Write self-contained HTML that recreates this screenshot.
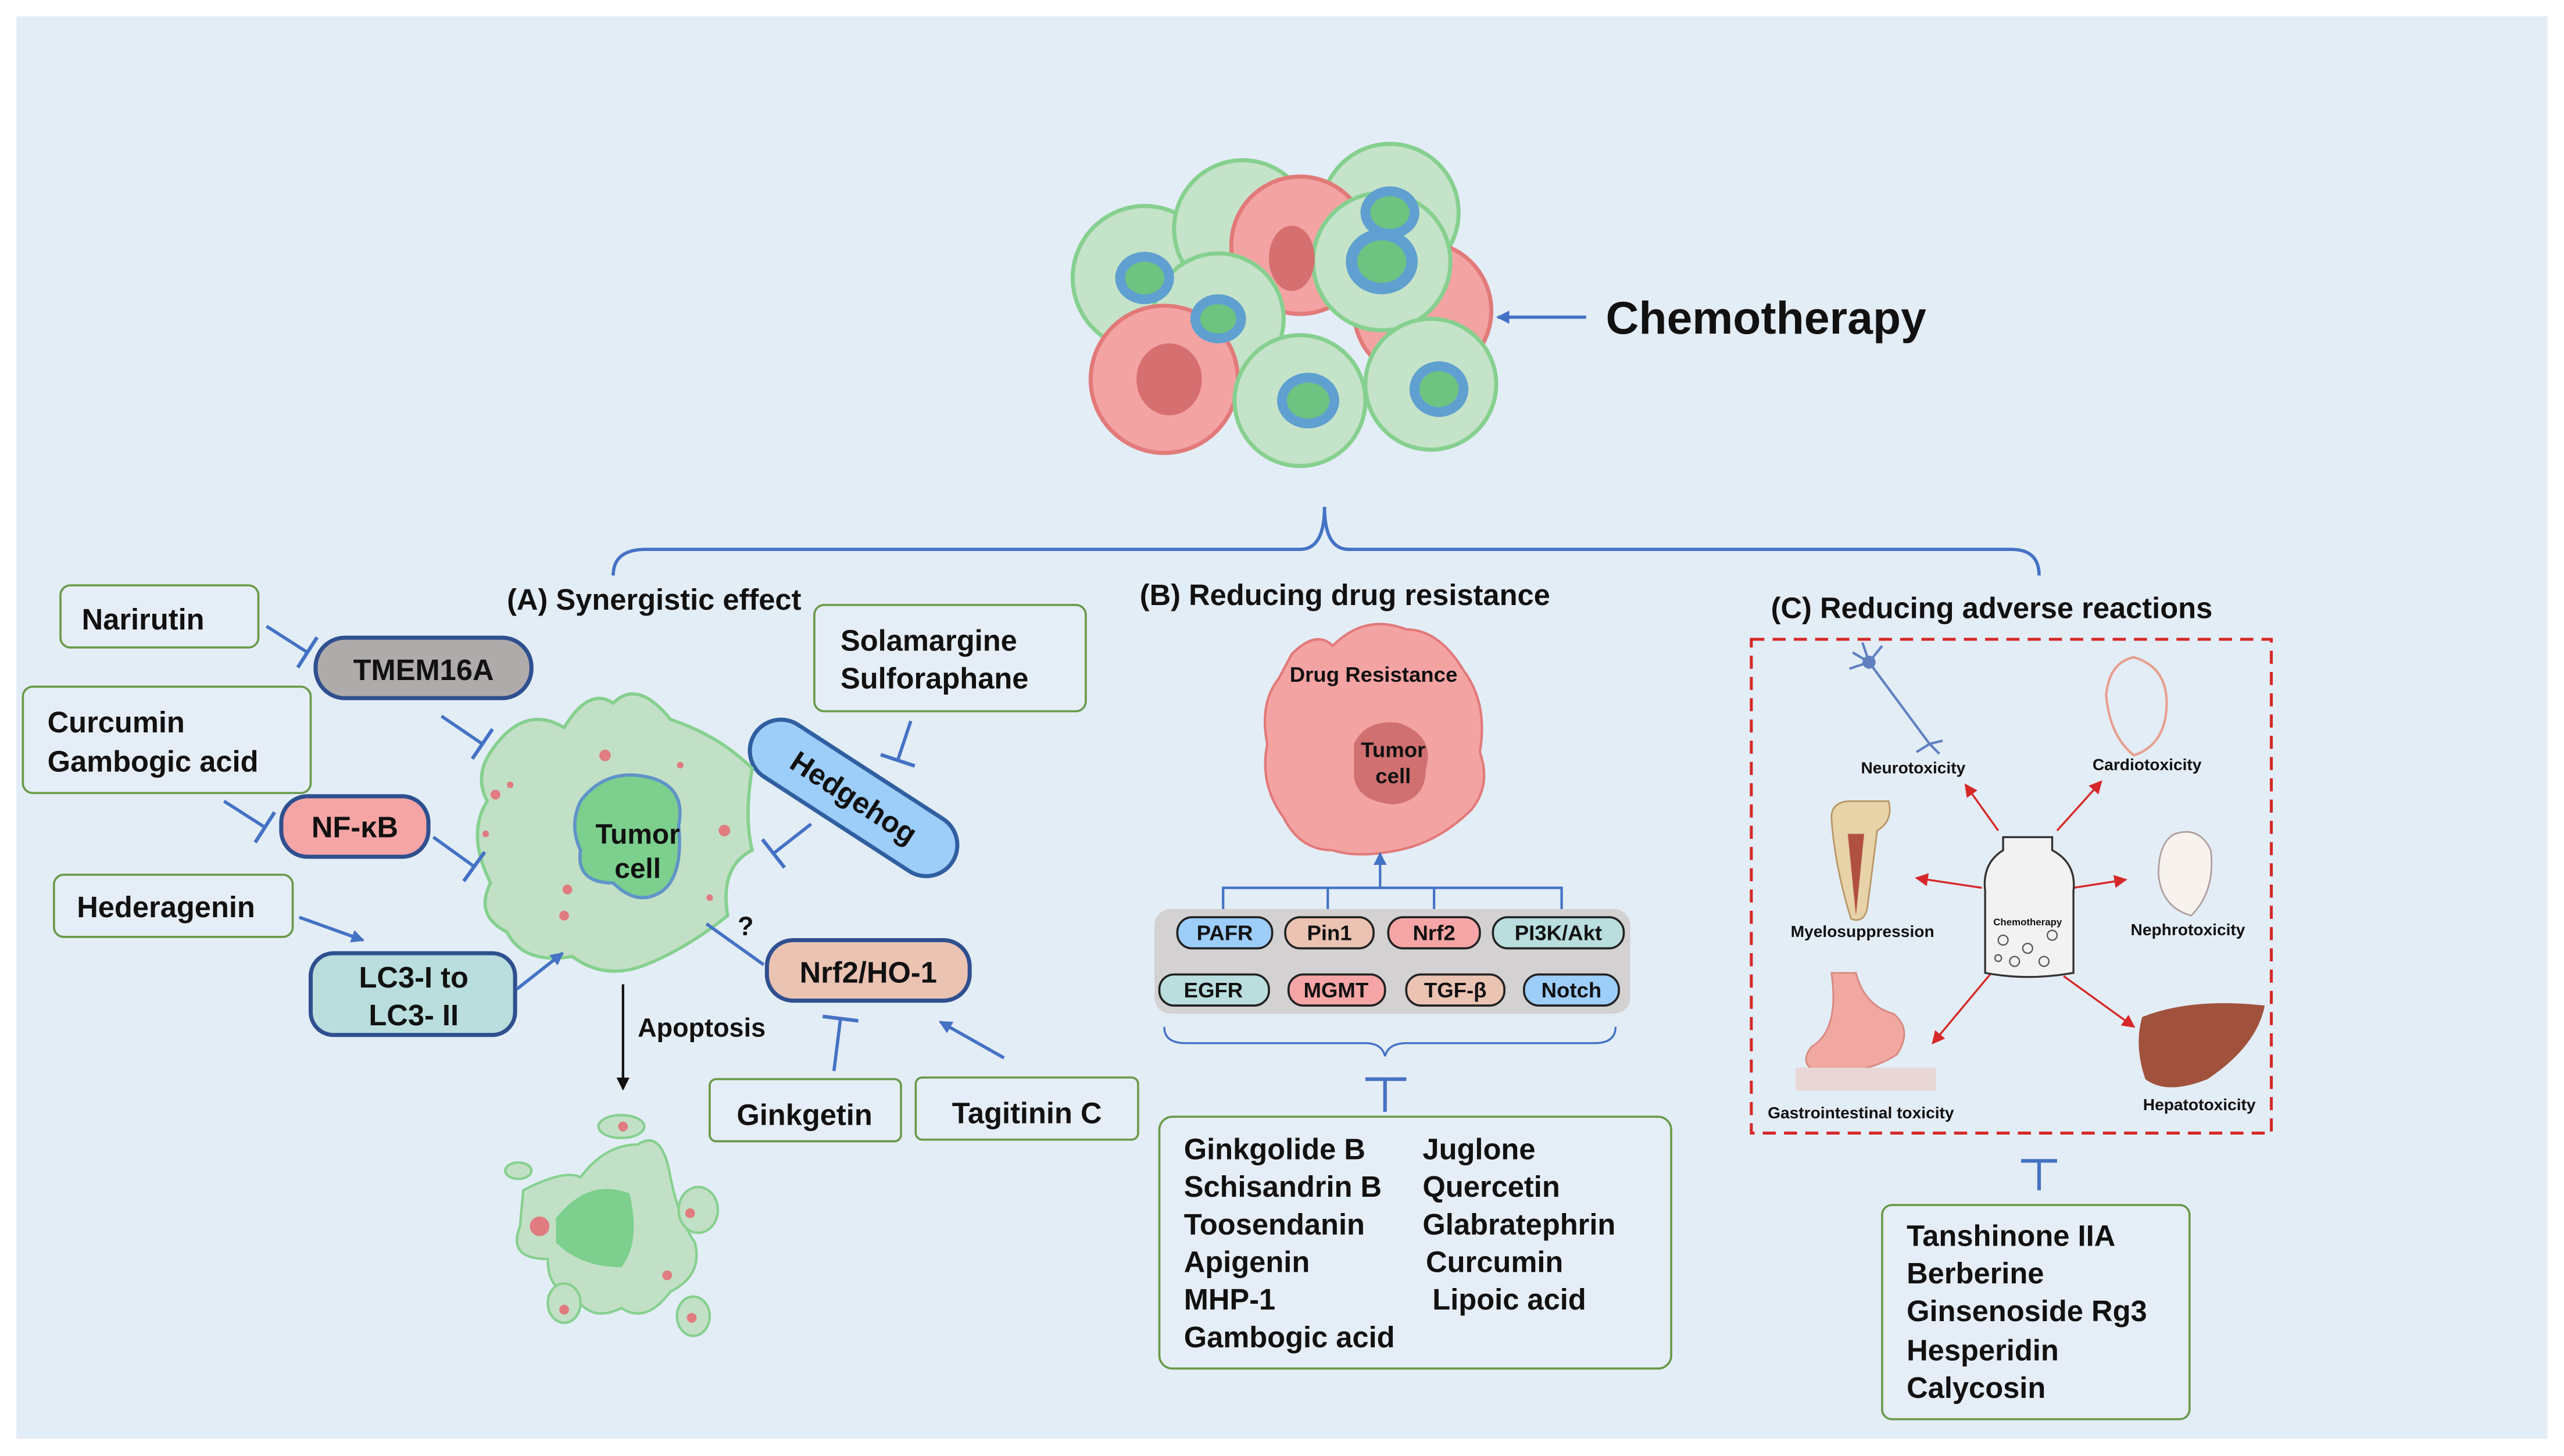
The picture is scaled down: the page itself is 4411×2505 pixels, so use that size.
<!DOCTYPE html>
<html><head><meta charset="utf-8"><style>
html,body{margin:0;padding:0;background:#fff}
svg{display:block}
text{font-family:"Liberation Sans",sans-serif;font-weight:bold;fill:#111}
</style></head><body>
<svg width="4411" height="2505" viewBox="0 0 1568 890.5" preserveAspectRatio="none" xmlns="http://www.w3.org/2000/svg">
<defs>
<marker id="ab" markerWidth="8" markerHeight="8" refX="7" refY="4" orient="auto" markerUnits="userSpaceOnUse"><path d="M0,0 L8,4 L0,8 Z" fill="#4472c4"/></marker>
<marker id="ak" markerWidth="8" markerHeight="8" refX="7" refY="4" orient="auto" markerUnits="userSpaceOnUse"><path d="M0,0 L8,4 L0,8 Z" fill="#111"/></marker>
<marker id="ar" markerWidth="8" markerHeight="8" refX="7" refY="4" orient="auto" markerUnits="userSpaceOnUse"><path d="M0,0 L8,4 L0,8 Z" fill="#d62828"/></marker>
<marker id="tb" markerWidth="4" markerHeight="22" refX="2" refY="11" orient="auto" markerUnits="userSpaceOnUse"><path d="M2,0 L2,22" stroke="#4472c4" stroke-width="2.2"/></marker>
</defs>
<rect x="0" y="0" width="1568" height="890.5" fill="#fff"/>
<rect x="10" y="10" width="1548" height="870" fill="#e3edf6"/>

<!-- chemo cluster -->
<g stroke-width="2.5">
<circle cx="700" cy="170" r="44" fill="#c5e3c9" stroke="#86d08f"/>
<circle cx="850" cy="130" r="42" fill="#c5e3c9" stroke="#86d08f"/>
<circle cx="760" cy="140" r="42" fill="#c5e3c9" stroke="#86d08f"/>
<circle cx="795" cy="150" r="42" fill="#f4a3a3" stroke="#e27a7a"/>
<circle cx="870" cy="190" r="42" fill="#f4a3a3" stroke="#e27a7a"/>
<circle cx="745" cy="195" r="40" fill="#c5e3c9" stroke="#86d08f"/>
<circle cx="845" cy="160" r="42" fill="#c5e3c9" stroke="#86d08f"/>
<circle cx="712" cy="232" r="45" fill="#f4a3a3" stroke="#e27a7a"/>
<circle cx="795" cy="245" r="40" fill="#c5e3c9" stroke="#86d08f"/>
<circle cx="875" cy="235" r="40" fill="#c5e3c9" stroke="#86d08f"/>
</g>
<g>
<ellipse cx="700" cy="170" rx="18" ry="16" fill="#5fa0d0"/><ellipse cx="700" cy="170" rx="12" ry="10" fill="#6cc480"/>
<ellipse cx="850" cy="130" rx="18" ry="16" fill="#5fa0d0"/><ellipse cx="850" cy="130" rx="12" ry="10" fill="#6cc480"/>
<ellipse cx="790" cy="158" rx="14" ry="20" fill="#d66f70"/>
<ellipse cx="845" cy="160" rx="22" ry="20" fill="#5fa0d0"/><ellipse cx="845" cy="160" rx="15" ry="13" fill="#6cc480"/>
<ellipse cx="745" cy="195" rx="17" ry="15" fill="#5fa0d0"/><ellipse cx="745" cy="195" rx="11" ry="9" fill="#6cc480"/>
<ellipse cx="715" cy="232" rx="20" ry="22" fill="#d66f70"/>
<ellipse cx="800" cy="245" rx="19" ry="17" fill="#5fa0d0"/><ellipse cx="800" cy="245" rx="13" ry="11" fill="#6cc480"/>
<ellipse cx="880" cy="238" rx="18" ry="17" fill="#5fa0d0"/><ellipse cx="880" cy="238" rx="12" ry="11" fill="#6cc480"/>
</g>
<line x1="970" y1="194" x2="916" y2="194" stroke="#4472c4" stroke-width="2" marker-end="url(#ab)"/>
<text x="982" y="204" font-size="28">Chemotherapy</text>

<!-- brace -->
<path d="M375,352 Q375,336 395,336 L795,336 Q810,336 810,310 Q810,336 825,336 L1230,336 Q1247,336 1247,352" fill="none" stroke="#4472c4" stroke-width="2"/>
<text x="310" y="373" font-size="18">(A) Synergistic effect</text>
<text x="697" y="370" font-size="18">(B) Reducing drug resistance</text>
<text x="1083" y="378" font-size="18">(C) Reducing adverse reactions</text>

<!-- panel A -->
<g fill="#e5eef6" stroke="#6a9a4a" stroke-width="1.3">
<rect x="37" y="358" width="121" height="38" rx="6"/>
<rect x="14" y="420" width="176" height="65" rx="6"/>
<rect x="33" y="535" width="146" height="38" rx="6"/>
<rect x="498" y="370" width="166" height="65" rx="6"/>
<rect x="434" y="660" width="117" height="38" rx="4"/>
<rect x="560" y="659" width="136" height="38" rx="4"/>
</g>
<text x="50" y="385" font-size="18">Narirutin</text>
<text x="29" y="448" font-size="18">Curcumin</text>
<text x="29" y="472" font-size="18">Gambogic acid</text>
<text x="47" y="561" font-size="18">Hederagenin</text>
<text x="514" y="398" font-size="18">Solamargine</text>
<text x="514" y="421" font-size="18">Sulforaphane</text>
<text x="492" y="688" font-size="18" text-anchor="middle">Ginkgetin</text>
<text x="628" y="687" font-size="18" text-anchor="middle">Tagitinin C</text>

<g stroke="#2f4f8f" stroke-width="2.5">
<rect x="193" y="390" width="132" height="37" rx="18" fill="#b0abab"/>
<rect x="172" y="487" width="90" height="37" rx="16" fill="#f5a5a5"/>
<rect x="190" y="583" width="125" height="50" rx="14" fill="#b9dedd"/>
<rect x="469" y="575" width="124" height="37" rx="16" fill="#ebc3b3"/>
</g>
<text x="259" y="416" font-size="18" text-anchor="middle">TMEM16A</text>
<text x="217" y="512" font-size="18" text-anchor="middle">NF-κB</text>
<text x="253" y="604" font-size="18" text-anchor="middle">LC3-I to</text>
<text x="253" y="627" font-size="18" text-anchor="middle">LC3- II</text>
<text x="531" y="601" font-size="18" text-anchor="middle">Nrf2/HO-1</text>
<text x="456" y="572" font-size="16" text-anchor="middle">?</text>

<g transform="translate(522,488) rotate(33)">
<rect x="-72" y="-19" width="144" height="38" rx="19" fill="#9dcdf9" stroke="#2f5fa0" stroke-width="2.5"/>
<text x="0" y="6" font-size="18" text-anchor="middle">Hedgehog</text>
</g>

<!-- tumor cell A -->
<path d="M300,460 Q320,430 345,445 Q360,420 375,430 Q390,415 410,440 Q440,450 460,470 Q455,500 460,520 Q440,530 445,560 Q420,580 395,590 Q370,600 350,585 Q320,590 310,570 Q290,560 300,540 Q285,510 298,490 Q290,475 300,460 Z" fill="#c2e0c6" stroke="#86d08f" stroke-width="2"/>
<path d="M355,490 Q370,470 395,475 Q420,480 415,505 Q418,535 405,545 Q390,555 375,540 Q352,540 355,520 Q348,505 355,490 Z" fill="#7ccf8d" stroke="#5f94c8" stroke-width="2"/>
<text x="390" y="516" font-size="17" text-anchor="middle">Tumor</text>
<text x="390" y="537" font-size="17" text-anchor="middle">cell</text>
<g fill="#e07c80"><circle cx="303" cy="486" r="3"/><circle cx="370" cy="462" r="3.5"/><circle cx="347" cy="544" r="3"/><circle cx="443" cy="508" r="3.5"/><circle cx="345" cy="560" r="3"/><circle cx="416" cy="468" r="2"/><circle cx="297" cy="510" r="2"/><circle cx="434" cy="549" r="2"/><circle cx="312" cy="480" r="2"/></g>

<g stroke="#4472c4" stroke-width="2" fill="none">
<line x1="163" y1="383" x2="188" y2="399" marker-end="url(#tb)"/>
<line x1="270" y1="438" x2="295" y2="455" marker-end="url(#tb)"/>
<line x1="137" y1="490" x2="162" y2="506" marker-end="url(#tb)"/>
<line x1="265" y1="512" x2="290" y2="530" marker-end="url(#tb)"/>
<line x1="496" y1="504" x2="473" y2="522" marker-end="url(#tb)"/>
<line x1="557" y1="441" x2="549" y2="465" marker-end="url(#tb)"/>
<line x1="510" y1="655" x2="514" y2="623" marker-end="url(#tb)"/>
<line x1="467" y1="590" x2="432" y2="565"/>
<line x1="183" y1="561" x2="222" y2="575" marker-end="url(#ab)"/>
<line x1="316" y1="605" x2="344" y2="583" marker-end="url(#ab)"/>
<line x1="614" y1="647" x2="575" y2="625" marker-end="url(#ab)"/>
</g>
<line x1="381" y1="602" x2="381" y2="666" stroke="#111" stroke-width="1.5" marker-end="url(#ak)"/>
<text x="390" y="634" font-size="16">Apoptosis</text>

<!-- dead cell -->
<g fill="#c2e0c6" stroke="#86d08f" stroke-width="1.5">
<path d="M320,728 Q345,715 355,720 Q370,700 390,700 Q405,690 410,720 Q415,745 425,760 Q430,780 410,790 Q395,810 380,800 Q360,810 350,790 Q335,790 335,770 Q310,770 318,750 Z"/>
<ellipse cx="380" cy="689" rx="14" ry="7"/>
<ellipse cx="345" cy="797" rx="10" ry="12"/>
<ellipse cx="424" cy="805" rx="10" ry="12"/>
<ellipse cx="427" cy="740" rx="12" ry="14"/>
<ellipse cx="317" cy="716" rx="8" ry="5"/>
</g>
<path d="M340,745 Q360,720 385,730 Q392,760 380,775 Q355,775 340,760 Z" fill="#7ccf8d"/>
<g fill="#e07c80"><circle cx="330" cy="750" r="6"/><circle cx="381" cy="689" r="3"/><circle cx="422" cy="742" r="3"/><circle cx="345" cy="801" r="3"/><circle cx="423" cy="806" r="3"/><circle cx="408" cy="780" r="3"/></g>

<!-- panel B -->
<path d="M790,400 Q805,385 815,395 Q835,375 860,385 Q880,385 895,410 Q910,430 905,460 Q912,480 900,495 Q880,515 855,520 Q830,525 815,520 Q795,520 785,500 Q770,480 775,455 Q770,430 782,415 Z" fill="#f4a3a3" stroke="#e27a7a" stroke-width="1.5"/>
<path d="M828,455 Q835,440 855,442 Q878,450 872,470 Q872,490 852,492 Q830,490 828,475 Z" fill="#d07070"/>
<text x="840" y="417" font-size="13" text-anchor="middle">Drug Resistance</text>
<text x="852" y="463" font-size="13" text-anchor="middle">Tumor</text>
<text x="852" y="479" font-size="13" text-anchor="middle">cell</text>
<g stroke="#4472c4" stroke-width="1.5" fill="none">
<line x1="844" y1="543" x2="844" y2="522" marker-end="url(#ab)"/>
<polyline points="748,562 748,543 955,543 955,562"/>
<line x1="812" y1="543" x2="812" y2="562"/>
<line x1="877" y1="543" x2="877" y2="562"/>
</g>
<rect x="706" y="556" width="291" height="64" rx="10" fill="#d3d1d1"/>
<g stroke="#222" stroke-width="1.3">
<rect x="720" y="561" width="58" height="19" rx="9" fill="#9dcdf9"/>
<rect x="786" y="561" width="54" height="19" rx="9" fill="#ebc3b3"/>
<rect x="849" y="561" width="56" height="19" rx="9" fill="#f5a5a5"/>
<rect x="913" y="561" width="80" height="19" rx="9" fill="#b9dedd"/>
<rect x="709" y="596" width="67" height="19" rx="9" fill="#b9dedd"/>
<rect x="788" y="596" width="59" height="19" rx="9" fill="#f5a5a5"/>
<rect x="860" y="596" width="60" height="19" rx="9" fill="#ebc3b3"/>
<rect x="932" y="596" width="58" height="19" rx="9" fill="#9dcdf9"/>
</g>
<g font-size="13" text-anchor="middle">
<text x="749" y="575">PAFR</text><text x="813" y="575">Pin1</text><text x="877" y="575">Nrf2</text><text x="953" y="575">PI3K/Akt</text>
<text x="742" y="610">EGFR</text><text x="817" y="610">MGMT</text><text x="890" y="610">TGF-β</text><text x="961" y="610">Notch</text>
</g>
<path d="M712,628 Q712,638 725,638 L835,638 Q845,638 847,646 Q849,638 860,638 L975,638 Q988,638 988,628" fill="none" stroke="#4472c4" stroke-width="1.2"/>
<g stroke="#4472c4" stroke-width="2.2"><line x1="847" y1="660" x2="847" y2="680"/><line x1="835" y1="660" x2="860" y2="660"/></g>
<rect x="709" y="683" width="313" height="154" rx="8" fill="#e5eef6" stroke="#6a9a4a" stroke-width="1.3"/>
<g font-size="18">
<text x="724" y="709">Ginkgolide B</text><text x="724" y="732">Schisandrin B</text><text x="724" y="755">Toosendanin</text><text x="724" y="778">Apigenin</text><text x="724" y="801">MHP-1</text><text x="724" y="824">Gambogic acid</text>
<text x="870" y="709">Juglone</text><text x="870" y="732">Quercetin</text><text x="870" y="755">Glabratephrin</text><text x="872" y="778">Curcumin</text><text x="876" y="801">Lipoic acid</text>
</g>

<!-- panel C -->
<rect x="1071" y="391" width="318" height="302" fill="none" stroke="#d62828" stroke-width="1.8" stroke-dasharray="8,5"/>
<g stroke="#d62828" stroke-width="1.2">
<line x1="1222" y1="508" x2="1202" y2="480" marker-end="url(#ar)"/>
<line x1="1258" y1="508" x2="1285" y2="478" marker-end="url(#ar)"/>
<line x1="1212" y1="543" x2="1172" y2="537" marker-end="url(#ar)"/>
<line x1="1268" y1="543" x2="1300" y2="538" marker-end="url(#ar)"/>
<line x1="1222" y1="590" x2="1182" y2="638" marker-end="url(#ar)"/>
<line x1="1262" y1="597" x2="1305" y2="628" marker-end="url(#ar)"/>
</g>
<!-- bottle -->
<path d="M1225,512 L1255,512 L1255,520 Q1270,528 1268,545 L1268,595 Q1240,600 1214,595 L1214,545 Q1212,528 1225,520 Z" fill="#f2f2f2" stroke="#333" stroke-width="1.2"/>
<g stroke="#555" stroke-width="0.8" fill="none"><circle cx="1225" cy="575" r="3"/><circle cx="1240" cy="580" r="3"/><circle cx="1255" cy="572" r="3"/><circle cx="1232" cy="588" r="3"/><circle cx="1250" cy="588" r="3"/><circle cx="1222" cy="586" r="2"/></g>
<text x="1240" y="566" font-size="6" text-anchor="middle">Chemotherapy</text>
<!-- neuron -->
<g stroke="#6080c0" stroke-width="1.5" fill="none"><line x1="1143" y1="405" x2="1180" y2="455"/><path d="M1143,405 l-10,-6 M1143,405 l-4,-12 M1143,405 l8,-10 M1143,405 l-12,4 M1180,455 l-8,5 M1180,455 l6,6 M1180,455 l8,-2"/></g>
<circle cx="1143" cy="405" r="4" fill="#6080c0"/>
<!-- heart -->
<path d="M1305,402 Q1290,405 1288,425 Q1290,450 1305,462 Q1325,455 1325,430 Q1325,408 1305,402 Z" fill="none" stroke="#e8a090" stroke-width="1.5"/>
<!-- bone -->
<path d="M1120,500 Q1120,490 1132,490 L1155,490 Q1158,502 1148,508 L1142,555 Q1140,565 1132,562 Q1122,530 1120,500 Z" fill="#e8d2a8" stroke="#b89868"/>
<path d="M1130,510 L1135,560 L1140,510 Z" fill="#b05040"/>
<!-- kidney -->
<path d="M1330,510 Q1345,505 1352,520 Q1355,545 1340,560 Q1322,555 1320,535 Q1320,515 1330,510 Z" fill="#f7f2ee" stroke="#b0a0a0"/>
<!-- stomach -->
<path d="M1120,595 L1135,595 Q1140,615 1158,620 Q1170,630 1160,645 Q1140,658 1110,655 Q1100,650 1108,640 Q1125,630 1120,595 Z" fill="#f0a8a0" stroke="#d88880"/>
<rect x="1098" y="653" width="86" height="14" fill="#e9d6d6"/>
<!-- liver -->
<path d="M1310,622 Q1340,610 1385,615 Q1380,640 1350,660 Q1325,670 1312,660 Q1305,640 1310,622 Z" fill="#a0523d"/>
<g font-size="10" text-anchor="middle">
<text x="1170" y="473">Neurotoxicity</text><text x="1313" y="471">Cardiotoxicity</text>
<text x="1139" y="573">Myelosuppression</text><text x="1338" y="572">Nephrotoxicity</text>
<text x="1138" y="684">Gastrointestinal  toxicity</text><text x="1345" y="679">Hepatotoxicity</text>
</g>
<g stroke="#4472c4" stroke-width="2.2"><line x1="1247" y1="710" x2="1247" y2="728"/><line x1="1236" y1="710" x2="1258" y2="710"/></g>
<rect x="1151" y="737" width="188" height="131" rx="6" fill="#e5eef6" stroke="#6a9a4a" stroke-width="1.3"/>
<g font-size="18">
<text x="1166" y="762">Tanshinone IIA</text><text x="1166" y="785">Berberine</text><text x="1166" y="808">Ginsenoside Rg3</text><text x="1166" y="832">Hesperidin</text><text x="1166" y="855">Calycosin</text>
</g>
</svg>
</body></html>
